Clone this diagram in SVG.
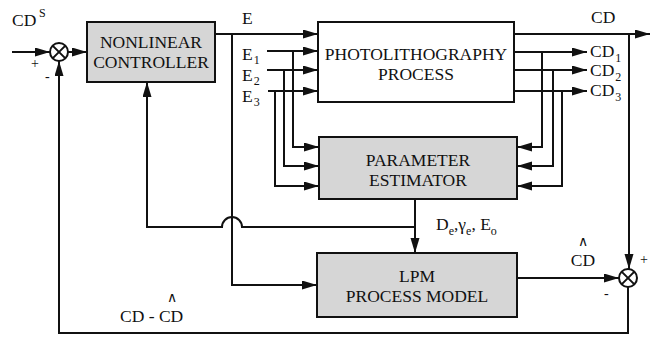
<svg xmlns="http://www.w3.org/2000/svg" width="650" height="337" viewBox="0 0 650 337">
<defs>
<marker id="ah" markerUnits="userSpaceOnUse" markerWidth="16" markerHeight="10" refX="15" refY="4.5" orient="auto">
<path d="M0,0 L15,4.5 L0,9 z" fill="#111"/>
</marker>
</defs>
<style>
.ln{fill:none;stroke:#111;stroke-width:2}
.ar{marker-end:url(#ah)}
.box{stroke:#111;stroke-width:2}
.gray{fill:#d6d6d6}
.white{fill:#fff}
text{font-family:"Liberation Serif","Times New Roman",serif;fill:#111;font-size:17.5px}
.c{text-anchor:middle}
.sub{font-size:12px}
.sm{font-size:14px}
</style>
<rect width="650" height="337" fill="#fff"/>

<g id="sum1">
<circle cx="59" cy="52" r="9" class="ln"/>
<path d="M52.6,45.6 L65.4,58.4 M65.4,45.6 L52.6,58.4" class="ln"/>
</g>
<g id="controller">
<rect x="87" y="22" width="128" height="60" class="box gray"/>
<text x="151" y="48" class="c">NONLINEAR</text>
<text x="151" y="68" class="c">CONTROLLER</text>
</g>
<g id="photolithography">
<rect x="318" y="22" width="196" height="80" class="box white"/>
<text x="416" y="60" class="c">PHOTOLITHOGRAPHY</text>
<text x="416" y="80" class="c">PROCESS</text>
</g>
<g id="estimator">
<rect x="319" y="137" width="198" height="62" class="box gray"/>
<text x="418" y="166" class="c">PARAMETER</text>
<text x="418" y="186" class="c">ESTIMATOR</text>
</g>
<g id="lpm">
<rect x="317" y="253" width="200" height="64" class="box gray"/>
<text x="417" y="282" class="c">LPM</text>
<text x="417" y="302" class="c">PROCESS MODEL</text>
</g>
<g id="sum2">
<circle cx="628" cy="278" r="9" class="ln"/>
<path d="M621.6,271.6 L634.4,284.4 M634.4,271.6 L621.6,284.4" class="ln"/>
</g>

<g id="connectors">
<path d="M12,52 H50" class="ln ar"/>
<path d="M68,52 H87" class="ln ar"/>
<path d="M215,34 H318" class="ln ar"/>
<path d="M232,34 V285 H317" class="ln ar"/>
<path d="M267,51 H318" class="ln ar"/>
<path d="M267,70 H318" class="ln ar"/>
<path d="M268,91 H318" class="ln ar"/>
<path d="M293,51 V147 H319" class="ln ar"/>
<path d="M284,70 V166 H319" class="ln ar"/>
<path d="M275,91 V186 H319" class="ln ar"/>
<path d="M514,34 H650" class="ln ar"/>
<path d="M629,34 V269" class="ln ar"/>
<path d="M514,52 H587" class="ln ar"/>
<path d="M514,70 H587" class="ln ar"/>
<path d="M514,91 H587" class="ln ar"/>
<path d="M542,52 V147 H517" class="ln ar"/>
<path d="M553,70 V166 H517" class="ln ar"/>
<path d="M562,91 V186 H517" class="ln ar"/>
<path d="M415,199 V253" class="ln ar"/>
<path d="M415,227 H242 A10,10 0 0 0 222,227 H147 V82" class="ln ar"/>
<path d="M517,278 H619" class="ln ar"/>
<path d="M628,287 V333 H59 V61" class="ln ar"/>
</g>

<g id="labels">
<text x="12" y="26">CD</text>
<text x="39" y="17" class="sub">S</text>
<text x="31" y="68" class="sm">+</text>
<text x="45" y="81" class="sm">-</text>
<text x="242" y="24">E</text>
<text x="242" y="60">E<tspan class="sub" dx="1" dy="4">1</tspan></text>
<text x="242" y="81">E<tspan class="sub" dx="1" dy="4">2</tspan></text>
<text x="242" y="102">E<tspan class="sub" dx="1" dy="4">3</tspan></text>
<text x="591" y="23">CD</text>
<text x="590" y="57">CD<tspan class="sub" dx="1" dy="5">1</tspan></text>
<text x="590" y="76">CD<tspan class="sub" dx="1" dy="5">2</tspan></text>
<text x="590" y="96">CD<tspan class="sub" dx="1" dy="5">3</tspan></text>
<text x="436" y="230">D<tspan class="sub" dy="5">e</tspan><tspan dy="-5">,γ</tspan><tspan class="sub" dy="5">e</tspan><tspan dy="-5">, E</tspan><tspan class="sub" dy="5">o</tspan></text>
<text x="583" y="246" class="c sm">∧</text>
<text x="583" y="266" class="c">CD</text>
<text x="640" y="264" class="sm">+</text>
<text x="604" y="298" class="sm">-</text>
<text x="120" y="322">CD - CD</text>
<text x="172" y="302" class="c sm">∧</text>
</g>
</svg>
